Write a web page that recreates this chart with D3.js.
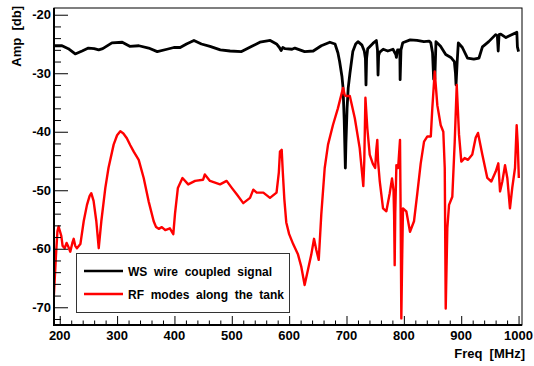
<!DOCTYPE html>
<html>
<head>
<meta charset="utf-8">
<script src="https://cdn.jsdelivr.net/npm/d3@7"></script>
<style>
  body { margin: 0; background: #fff; }
  text { font-family: "Liberation Sans", Arial, sans-serif; font-weight: bold; }
</style>
</head>
<body>
<div class="graph"></div>
<script>
// WS wire coupled signal (black)
const wsFreq = [190, 204, 215, 227, 239, 250, 260, 268, 275, 291, 309, 322, 338, 355, 370, 387, 399, 410, 421, 434, 447, 462, 480, 497, 517, 535, 549, 567, 578, 583, 586, 589, 593, 605, 610, 627, 642, 656, 671, 680, 685, 688, 692, 694, 696, 698, 699, 701, 703, 706, 711, 716, 720, 727, 731, 733, 734, 735, 737, 746, 752, 754, 755, 756, 758, 764, 772, 781, 786, 787, 789, 793, 793.5, 795, 798, 811, 823, 835, 844, 847, 850, 852, 854, 856, 864, 873, 882, 888, 890, 891, 893, 895, 902, 911, 922, 931, 937, 948, 960, 963, 964.5, 966, 969, 978, 986, 995, 997, 998, 1000];
const wsAmp = [-25.3, -25.3, -25.8, -26.7, -26.2, -25.7, -25.8, -26.0, -25.8, -24.8, -24.7, -25.4, -25.3, -25.7, -26.3, -25.9, -25.6, -25.6, -25.0, -24.4, -25.0, -25.4, -26.0, -26.2, -26.3, -25.4, -24.7, -24.4, -25.0, -25.6, -26.1, -25.6, -25.8, -25.9, -25.7, -26.3, -26.2, -25.3, -24.7, -25.0, -26.5, -28.0, -30.5, -32.5, -38, -46.2, -42, -36.0, -32.5, -30.0, -26.3, -25.0, -24.6, -25.2, -26.2, -27.5, -32.0, -27.5, -25.8, -24.9, -24.4, -26, -30.3, -27, -26.4, -25.9, -26.2, -25.9, -26.8, -27.3, -26, -26.0, -31.1, -26, -24.8, -24.3, -24.4, -24.6, -24.5, -24.8, -26.5, -31, -31, -24.6, -25.4, -26.8, -27.3, -28.0, -30, -32.0, -28, -24.8, -25.6, -27.4, -27.6, -27.4, -25.5, -24.6, -23.4, -23.6, -26.2, -23.4, -23.3, -23.9, -23.5, -23.1, -23.0, -25.5, -26.3];

// RF modes along the tank (red)
const rfFreq = [189.5, 193.5, 196, 198, 202.7, 205, 208.7, 212, 215.6, 218.4, 222, 224.3, 227, 230, 236, 241.8, 247.5, 252, 255, 259, 263.8, 268, 272.5, 279.5, 285, 294, 300, 305.6, 311, 317, 323, 329, 337.7, 346.4, 355, 363.8, 368, 372.6, 378, 384, 392, 398, 401, 406, 414, 424, 436, 450, 453, 462, 479.5, 491, 500, 508.6, 520, 531.8, 537.5, 543.4, 555, 566.6, 578, 582, 584, 587, 589, 591.6, 595, 600, 607, 615.5, 621, 627, 633, 638.6, 643.4, 647.4, 651.6, 656, 662, 667.8, 676.5, 685, 694, 697, 700, 705.8, 714.5, 723, 729.3, 731, 733, 736.3, 740.5, 746, 750, 752, 753.7, 755, 758, 763.7, 769.5, 775.4, 779.4, 782, 783, 784, 785, 787, 790, 793.3, 794.5, 795.6, 797, 798.5, 804.3, 810.7, 817.7, 823.5, 829.4, 835.2, 841, 847, 849.6, 853.8, 858.4, 864.3, 868.8, 871.3, 873, 875.8, 878.8, 884.5, 888.7, 892.2, 896.2, 900.2, 906, 911.9, 919.3, 925.3, 929.3, 936.8, 945.5, 952.5, 960.2, 964.7, 967.7, 971.7, 976.4, 980.4, 985, 989, 993.8, 996.7, 998.5, 1000.5];
const rfAmp = [-68.5, -61.0, -57, -56.2, -57.8, -59.5, -59.9, -59, -59.8, -60.5, -59, -58.3, -59.5, -59.9, -59.2, -55.3, -52.5, -51, -50.5, -51.8, -55.3, -59.9, -55.3, -49.6, -46.2, -42.2, -40.6, -39.9, -40.3, -41.1, -42.3, -43.4, -44.8, -47.9, -51.9, -55.3, -56.3, -56.6, -56.3, -56.8, -56.5, -57.5, -54, -49.6, -47.9, -49.0, -48.4, -48.2, -47.3, -48.4, -49.0, -48.4, -49.6, -50.7, -52.2, -51.3, -49.9, -50.4, -50.4, -51.3, -50.4, -47, -43.4, -43.1, -47, -51.5, -55.5, -57.5, -59.2, -61.0, -63, -66.2, -63.5, -61.0, -58.3, -60.2, -61.9, -54.2, -46.2, -42.2, -38.8, -36.0, -32.5, -33.8, -33.9, -33.9, -37.7, -42.8, -49.3, -45, -34.2, -39.4, -43.9, -45.5, -46.2, -43, -41.4, -45, -48.5, -53.1, -53.6, -50.5, -48.0, -50, -54.2, -62.8, -54, -45.7, -46.2, -41.4, -55, -71.9, -62, -53.1, -53.6, -57.1, -55.3, -50.5, -45.4, -41.7, -40.8, -40.8, -36.0, -29.7, -35.5, -38.9, -40.0, -46.2, -70.2, -56.5, -52.5, -51.1, -41.7, -32.0, -40.5, -45.1, -44.5, -44.8, -43.9, -41.0, -40.2, -43.9, -47.9, -48.5, -46.8, -45.4, -50.2, -48.5, -45.7, -47.9, -53.1, -49.6, -46.2, -38.9, -42, -47.9];

const xTicks = [200, 300, 400, 500, 600, 700, 800, 900, 1000];
const yTicks = [-70, -60, -50, -40, -30, -20];
const legendLabels = ["WS  wire  coupled  signal", "RF  modes  along  the  tank"];

const width = 534;
const height = 366;
const frame = { left: 54, right: 522, top: 8, bottom: 325 };

// keep the wide ROOT-style word spacing
const wide = (s) => s.replace(/  /g, " \u00a0");

const svg = d3
  .select(".graph")
  .append("svg")
  .attr("width", width)
  .attr("height", height);

const x = d3.scaleLinear().domain([190, 1006]).range([frame.left, frame.right]);
const y = d3.scaleLinear().domain([-73.03, -18.85]).range([frame.bottom, frame.top]);

svg
  .append("clipPath")
  .attr("id", "clip")
  .append("rect")
  .attr("x", frame.left)
  .attr("y", frame.top)
  .attr("width", frame.right - frame.left)
  .attr("height", frame.bottom - frame.top);

// frame
svg
  .append("rect")
  .attr("x", frame.left)
  .attr("y", frame.top)
  .attr("width", frame.right - frame.left)
  .attr("height", frame.bottom - frame.top)
  .attr("fill", "none")
  .attr("stroke", "#000")
  .attr("stroke-width", 1);

// curves
const line = (xs, ys) =>
  d3.line().x((d, i) => x(xs[i])).y((d, i) => y(ys[i]))(xs);

const curves = svg.append("g").attr("clip-path", "url(#clip)");
curves
  .append("path")
  .attr("d", line(wsFreq, wsAmp))
  .attr("fill", "none")
  .attr("stroke", "#000")
  .attr("stroke-width", 2.8)
  .attr("stroke-linejoin", "round");
curves
  .append("path")
  .attr("d", line(rfFreq, rfAmp))
  .attr("fill", "none")
  .attr("stroke", "#ff0000")
  .attr("stroke-width", 2.4)
  .attr("stroke-linejoin", "round");

// x axis: ticks point inward
const xAxis = d3
  .axisBottom(x)
  .tickValues(d3.range(200, 1001, 20))
  .tickSize(-4.5)
  .tickFormat("");
const gx = svg.append("g").attr("transform", `translate(0,${frame.bottom})`).call(xAxis);
gx.select(".domain").remove();
gx.selectAll(".tick line")
  .filter((d) => d % 100 === 0)
  .attr("y2", -9);

svg
  .append("g")
  .selectAll()
  .data(xTicks)
  .join("text")
  .attr("x", (d) => x(d))
  .attr("y", 340)
  .attr("text-anchor", "middle")
  .attr("font-size", 13)
  .text((d) => d);

// y axis
const yAxis = d3
  .axisLeft(y)
  .tickValues(d3.range(-72, -19, 2))
  .tickSize(-7)
  .tickFormat("");
const gy = svg.append("g").attr("transform", `translate(${frame.left},0)`).call(yAxis);
gy.select(".domain").remove();
gy.selectAll(".tick line")
  .filter((d) => d % 10 === 0)
  .attr("x2", 14);

svg
  .append("g")
  .selectAll()
  .data(yTicks)
  .join("text")
  .attr("x", 51)
  .attr("y", (d) => y(d))
  .attr("dy", "0.36em")
  .attr("text-anchor", "end")
  .attr("font-size", 13)
  .text((d) => d);

// thicker axis lines on left and bottom
svg.append("line")
  .attr("x1", frame.left).attr("x2", frame.left)
  .attr("y1", frame.top).attr("y2", frame.bottom + 1)
  .attr("stroke", "#000").attr("stroke-width", 2);
svg.append("line")
  .attr("x1", frame.left - 1).attr("x2", frame.right)
  .attr("y1", frame.bottom).attr("y2", frame.bottom)
  .attr("stroke", "#000").attr("stroke-width", 2);

// axis titles
svg.append("text")
  .attr("x", 525)
  .attr("y", 358)
  .attr("text-anchor", "end")
  .attr("font-size", 13)
  .text(wide("Freq  [MHz]"));

svg.append("text")
  .attr("transform", "translate(21,6) rotate(-90)")
  .attr("text-anchor", "end")
  .attr("font-size", 13)
  .text(wide("Amp  [db]"));

// legend
const legend = svg.append("g");
legend.append("rect")
  .attr("x", 76.5).attr("y", 253.5)
  .attr("width", 213).attr("height", 59)
  .attr("fill", "#fff")
  .attr("stroke", "#333")
  .attr("stroke-width", 1);

const legendColors = ["#000", "#ff0000"];
const legendY = [271, 294];
legend.selectAll("line")
  .data(legendLabels)
  .join("line")
  .attr("x1", 84).attr("x2", 123)
  .attr("y1", (d, i) => legendY[i]).attr("y2", (d, i) => legendY[i])
  .attr("stroke", (d, i) => legendColors[i])
  .attr("stroke-width", 2.4);
legend.selectAll("text")
  .data(legendLabels)
  .join("text")
  .attr("x", 128)
  .attr("y", (d, i) => legendY[i] + 4.5)
  .attr("font-size", 12)
  .text((d) => wide(d));
</script>
</body>
</html>
